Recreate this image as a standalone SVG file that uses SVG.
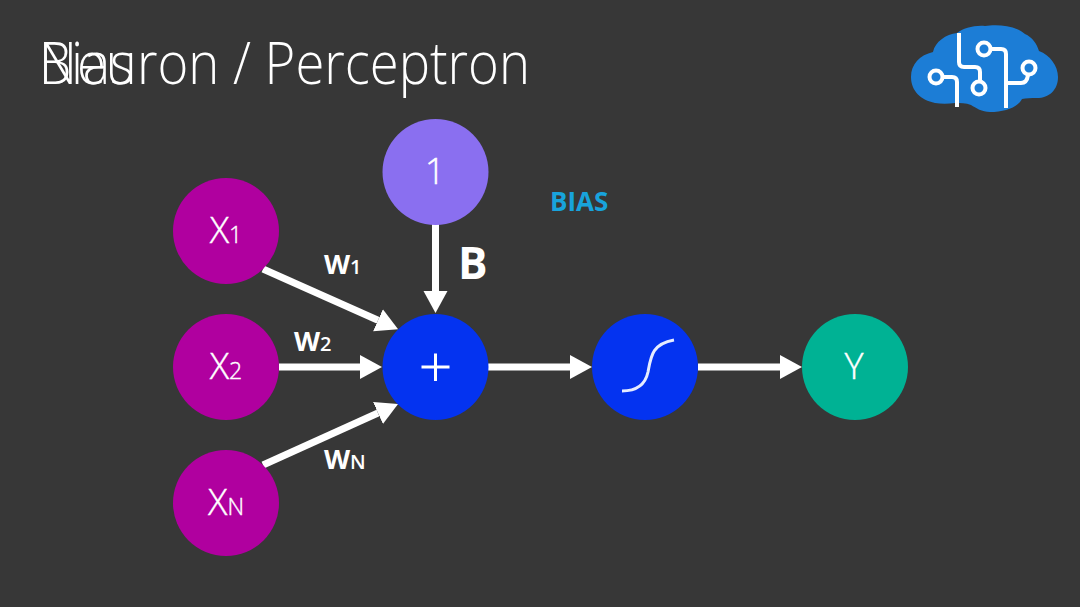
<svg xmlns="http://www.w3.org/2000/svg" width="1080" height="607" viewBox="0 0 1080 607">
<style>
text{font-family:"Open Sans","Liberation Sans",sans-serif;fill:#fff}
.title{font-size:59px;font-weight:300}
.lab{font-size:36px;font-weight:300;text-anchor:middle;stroke:#fff;stroke-width:.4}
.sub{font-size:23px}
.w{font-size:27px;font-weight:700}
.ws{font-size:20px;font-weight:600}
.a{stroke:#fff;stroke-width:7;fill:none;marker-end:url(#h)}
.ic{stroke:#fff;stroke-width:4;fill:none}
</style>
<defs>
<marker id="h" markerUnits="userSpaceOnUse" markerWidth="24" markerHeight="26" refX="0" refY="12" orient="auto" viewBox="0 0 24 24"><path d="M0 0L22 12L0 24Z" fill="#fff"/></marker>
</defs>
<rect width="1080" height="607" fill="#373737"/>
<g id="title">
<text class="title" x="39" y="84" textLength="491" lengthAdjust="spacingAndGlyphs">Neuron / Perceptron</text>
<text class="title" x="39" y="84" textLength="95" lengthAdjust="spacingAndGlyphs">Bias</text>
</g>
<g id="logo">
<path d="M911 77C911 64 920 55 933 52C935 42 946 34 957 33C963 28 975 25 985 26C996 24 1015 25 1025 34C1032 37 1037 44 1039 51C1050 55 1058 66 1058 77C1058 90 1049 98 1037 98C1031 98 1026 98 1022 99C1018 107 1005 112 990 112C982 112 976 108 971 105C966 103 960 103 955 103C948 104 941 104 935 103C921 100 911 91 911 77Z" fill="#1c7dd6"/>
<path class="ic" d="M959 33V62Q959 67 964 67H975Q980 67 980 72V81M991 49H1001Q1006 49 1006 54V108M1006 83H1021Q1027 83 1028 75M943 77H952Q957 77 957 82V107"/>
<circle class="ic" cx="979" cy="88" r="6.5"/><circle class="ic" cx="984" cy="49" r="6.5"/><circle class="ic" cx="1029" cy="68" r="6.5"/><circle class="ic" cx="936" cy="77" r="6.5"/>
</g>
<g id="connectors">
<line class="a" x1="263" y1="269" x2="378" y2="320.2"/>
<line class="a" x1="279" y1="367" x2="360" y2="367"/>
<line class="a" x1="263" y1="465" x2="378" y2="413"/>
<line class="a" x1="435.5" y1="224" x2="435.5" y2="291"/>
<line class="a" x1="488" y1="367" x2="570" y2="367"/>
<line class="a" x1="698" y1="367" x2="780" y2="367"/>
</g>
<g id="x1"><circle cx="226" cy="231" r="53" fill="#b0009f"/><text class="lab" x="226" y="243">X<tspan class="sub">1</tspan></text></g>
<g id="x2"><circle cx="226" cy="367" r="53" fill="#b0009f"/><text class="lab" x="226" y="379">X<tspan class="sub">2</tspan></text></g>
<g id="xn"><circle cx="226" cy="503" r="53" fill="#b0009f"/><text class="lab" x="226" y="515">X<tspan class="sub">N</tspan></text></g>
<g id="one"><circle cx="435.5" cy="172" r="53" fill="#8a6ff0"/><text class="lab" x="435" y="184">1</text></g>
<g id="sum"><circle cx="435.5" cy="367" r="53" fill="#0433f0"/><path d="M421.5 367H449.5M435.5 353.5V381" stroke="#fff" stroke-width="3" fill="none"/></g>
<g id="activation"><circle cx="645" cy="367" r="53" fill="#0433f0"/><path d="M622 391C635 391 645 386 648 372C651 356 652 344 674 340" stroke="#e6ecff" stroke-width="3" fill="none"/></g>
<g id="y"><circle cx="855" cy="367" r="53" fill="#00b294"/><text class="lab" x="854" y="379">Y</text></g>
<g id="labels">
<text class="w" x="324" y="274">W<tspan class="ws">1</tspan></text>
<text class="w" x="294" y="351">W<tspan class="ws">2</tspan></text>
<text class="w" x="324" y="469">W<tspan class="ws">N</tspan></text>
<text x="458" y="279" font-size="44" font-weight="700">B</text>
<text x="550" y="211" font-size="26" font-weight="700" style="fill:#18a3dc">BIAS</text>
</g>
</svg>
